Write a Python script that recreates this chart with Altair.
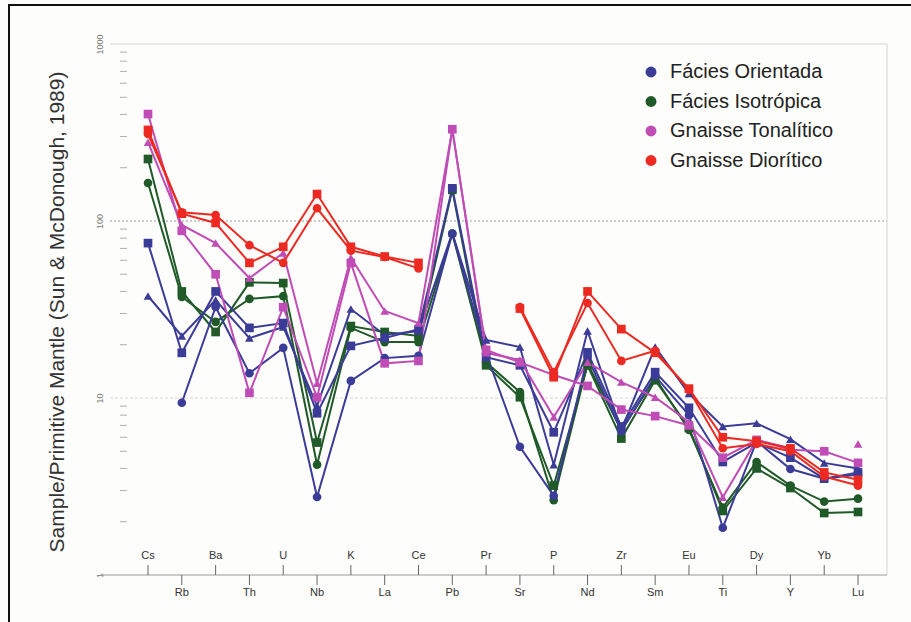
import altair as alt
import pandas as pd

# Trace elements, in spider-diagram order
elements = ["Cs", "Rb", "Ba", "Th", "U", "Nb", "K", "La", "Ce", "Pb", "Pr",
            "Sr", "P", "Nd", "Zr", "Sm", "Eu", "Ti", "Dy", "Y", "Yb", "Lu"]

groups = ["Fácies Orientada", "Fácies Isotrópica", "Gnaisse Tonalítico", "Gnaisse Diorítico"]
group_colors = ["#3b3b98", "#1f5a28", "#c04db6", "#ec2a22"]

N = None  # element not analysed -> line is broken there

# Primitive-mantle normalised concentrations (Sun & McDonough, 1989)
orientada_circle = [N, 9.4, 32.7, 13.8, 19.2, 2.76, 12.5, 16.8, 17.3, 85, 17.9,
                    5.3, 2.8, 17.0, 6.5, 13.3, 8.0, 1.85, 5.7, 3.97, 3.5, 3.7]
orientada_square = [75, 18, 40, 24.9, 26.5, 8.2, 19.7, 21.8, 24.5, 153, 17,
                    15.3, 6.4, 18.1, 6.9, 14, 8.8, 4.35, 5.6, 4.6, 3.5, 3.8]
orientada_triangle = [37.7, 22.4, 35.8, 21.8, 25.2, 9.0, 31.8, 22.7, 23.9, 85.5, 21.3,
                      19.4, 4.2, 23.9, 6.6, 19.4, 10.6, 6.9, 7.2, 5.85, 4.3, 4.0]
isotropica_circle = [164, 37.2, 26.9, 36.3, 37.6, 4.2, 24.9, 20.7, 20.7, 85, 15.9,
                     10.8, 2.65, 15.6, 6.6, 13, 6.6, 2.4, 4.35, 3.2, 2.6, 2.7]
isotropica_square = [224, 40, 23.6, 45, 44.6, 5.6, 25.5, 23.6, 22.4, 150, 15.3,
                     10.1, 3.2, 15.3, 5.9, 12.6, 6.8, 2.3, 4.0, 3.1, 2.24, 2.27]
tonalitico_square = [402, 88, 50, 10.7, 32.6, 10.1, 58, 15.7, 16.2, 330, 18.7,
                     15.9, 13.5, 11.7, 8.6, 7.9, 7.0, 4.6, 5.8, 5.1, 5.0, 4.3]
tonalitico_triangle = [279, 95, 75, 47.6, 66, 12.1, 62, 31, 26.5, 330, 18,
                       16.4, 7.8, 15.9, 12.3, 10.1, 7.3, 2.75, 5.8, 5.2, N, 5.5]
dioritico_circle = [310, 112, 108, 73, 58, 118, 68, 62.6, 54, N, N,
                    32.6, 14, 34.4, 16.2, 18.5, 11.1, 5.2, 5.5, 5.0, 3.6, 3.2]
dioritico_square = [327, 110, 97.5, 58, 71.5, 142, 71.5, 63, 58, N, N,
                    32, 13.1, 40, 24.5, 18, 11.3, 6.0, 5.7, 5.2, 3.8, 3.45]

# drawing order: first listed is painted first (underneath)
samples = [
    ("I1", groups[1], "circle", isotropica_circle),
    ("I2", groups[1], "square", isotropica_square),
    ("O1", groups[0], "circle", orientada_circle),
    ("O2", groups[0], "square", orientada_square),
    ("O3", groups[0], "triangle-up", orientada_triangle),
    ("T1", groups[2], "square", tonalitico_square),
    ("T2", groups[2], "triangle-up", tonalitico_triangle),
    ("D1", groups[3], "circle", dioritico_circle),
    ("D2", groups[3], "square", dioritico_square),
]

rows = []
for order, (sid, grp, shp, vals) in enumerate(samples):
    seg = 0
    for i, v in enumerate(vals):
        if v is None:
            seg += 1
            continue
        rows.append({"sample": sid, "path": f"{order}-{sid}-{seg}", "group": grp, "shape": shp,
                     "idx": i, "element": elements[i], "value": v, "order": order})
df = pd.DataFrame(rows)

W, H = 777, 531
xscale = alt.Scale(domain=[-1.1239, 21.857], nice=False, zero=False)
yscale = alt.Scale(type="log", domain=[1, 1000], nice=False)
yaxis = alt.Axis(values=[1, 10, 100, 1000], format="d", grid=False, domain=False,
                 ticks=False, tickSize=0, labelAngle=270, labelFontSize=9,
                 labelColor="#777777", labelFont="Liberation Sans", labelPadding=6,
                 labelOverlap=False, labelFlush=False,
                 title="Sample/Primitive Mantle (Sun & McDonough, 1989)",
                 titleFont="Liberation Sans", titleFontSize=21, titleFontWeight="normal",
                 titleColor="#333333", titleAngle=270, titleX=-53, titleY=H / 2 + 2,
                 titleAlign="center", titleBaseline="middle")


def ypos(field="value"):
    return alt.Y(f"{field}:Q", scale=yscale, axis=yaxis)


def xpos():
    return alt.X("idx:Q", scale=xscale, axis=None)


color = alt.Color("group:N", scale=alt.Scale(domain=groups, range=group_colors),
                  legend=alt.Legend(orient="none", legendX=531, legendY=18, title=None,
                                    symbolType="circle", symbolSize=120, symbolStrokeWidth=0,
                                    labelFont="Liberation Sans", labelFontSize=20,
                                    labelColor="#222222", labelOffset=9, rowPadding=9.5,
                                    padding=0, labelLimit=300))

# gridlines
grid_df = pd.DataFrame({"value": [1000, 100, 10], "kind": ["top", "major", "minor"]})
grid_top = alt.Chart(grid_df[grid_df.kind == "top"]).mark_rule(color="#d4d4d4", strokeWidth=1).encode(
    y=ypos(), x=alt.value(0), x2=alt.value(W))
grid_100 = alt.Chart(grid_df[grid_df.kind == "major"]).mark_rule(
    color="#9a9a9a", strokeWidth=1, strokeDash=[2, 2]).encode(y=ypos(), x=alt.value(0), x2=alt.value(W))
grid_10 = alt.Chart(grid_df[grid_df.kind == "minor"]).mark_rule(
    color="#d8d8d8", strokeWidth=1, strokeDash=[3, 2]).encode(y=ypos(), x=alt.value(0), x2=alt.value(W))

# minor ticks on the log axis
minor_vals = [m * d for d in (1, 10, 100) for m in range(2, 10)]
minor_df = pd.DataFrame({"value": minor_vals})
minor_ticks = alt.Chart(minor_df).mark_rule(color="#b0b0b0", strokeWidth=1).encode(
    y=ypos(), x=alt.value(10), x2=alt.value(17))

# frame pieces: right border and baseline
border_right = alt.Chart(pd.DataFrame({"v": [0]})).mark_rule(color="#d4d4d4", strokeWidth=1).encode(
    x=alt.value(W), y=alt.value(0), y2=alt.value(H))
baseline = alt.Chart(pd.DataFrame({"value": [1]})).mark_rule(color="#9a9a9a", strokeWidth=1).encode(
    y=ypos(), x=alt.value(-10), x2=alt.value(W))

# sample profiles
lines = alt.Chart(df).mark_line(strokeWidth=2).encode(
    x=xpos(), y=ypos(), color=color, detail="path:N", order="idx:Q")
points = alt.Chart(df).mark_point(filled=True, opacity=1, size=75).encode(
    x=xpos(), y=ypos(),
    color=alt.Color("group:N", scale=alt.Scale(domain=groups, range=group_colors), legend=None),
    shape=alt.Shape("shape:N", scale=alt.Scale(domain=["circle", "square", "triangle-up"],
                                               range=["circle", "square", "triangle-up"]), legend=None),
    order="order:Q")

# element labels, alternating above and below the baseline
lab_df = pd.DataFrame({"idx": list(range(len(elements))), "element": elements,
                       "row": ["up" if i % 2 == 0 else "down" for i in range(len(elements))]})
up = lab_df[lab_df.row == "up"]
down = lab_df[lab_df.row == "down"]
tick_up = alt.Chart(up).mark_rule(color="#666666", strokeWidth=1).encode(
    x=xpos(), y=alt.value(H - 10), y2=alt.value(H))
tick_down = alt.Chart(down).mark_rule(color="#666666", strokeWidth=1).encode(
    x=xpos(), y=alt.value(H), y2=alt.value(H + 10))
text_up = alt.Chart(up).mark_text(font="Liberation Sans", fontSize=11, color="#333333",
                                  baseline="middle").encode(
    x=xpos(), y=alt.value(H - 19), text="element:N")
text_down = alt.Chart(down).mark_text(font="Liberation Sans", fontSize=11, color="#333333",
                                      baseline="middle").encode(
    x=xpos(), y=alt.value(H + 18), text="element:N")

# outer black frame
frame_v = alt.Chart(pd.DataFrame({"v": [0]})).mark_rule(color="#111111", strokeWidth=2).encode(
    x=alt.value(-101), y=alt.value(-39), y2=alt.value(H + 50))
frame_h = alt.Chart(pd.DataFrame({"v": [0]})).mark_rule(color="#111111", strokeWidth=2).encode(
    y=alt.value(-39), x=alt.value(-102), x2=alt.value(W + 30))

chart = alt.layer(
    grid_top, grid_100, grid_10, minor_ticks, border_right, baseline,
    lines, points, tick_up, tick_down, text_up, text_down, frame_v, frame_h,
).properties(
    width=W, height=H, autosize=alt.AutoSizeParams(type="none"),
    padding={"left": 110, "top": 44, "right": 24, "bottom": 47},
    background="#fdfdfb",
).configure_view(stroke=None)

chart.save("out.html", embed_options={"renderer": "svg", "actions": False})
